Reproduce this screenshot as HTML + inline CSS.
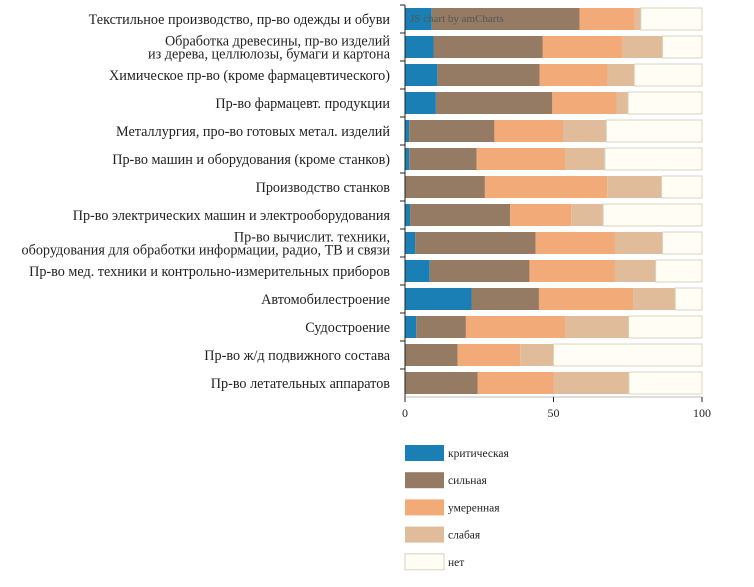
<!DOCTYPE html>
<html><head><meta charset="utf-8"><style>
body{margin:0;background:#fff;width:754px;height:582px;overflow:hidden;font-family:"Liberation Serif",serif}
</style></head><body>
<svg id="chart" width="754" height="582" xmlns="http://www.w3.org/2000/svg"></svg>
<script>
const categories=["Текстильное производство, пр-во одежды и обуви","Обработка древесины, пр-во изделий|из дерева, целлюлозы, бумаги и картона","Химическое пр-во (кроме фармацевтического)","Пр-во фармацевт. продукции","Металлургия, про-во готовых метал. изделий","Пр-во машин и оборудования (кроме станков)","Производство станков","Пр-во электрических машин и электрооборудования","Пр-во вычислит. техники,|оборудования для обработки информации, радио, ТВ и связи","Пр-во мед. техники и контрольно-измерительных приборов","Автомобилестроение","Судостроение","Пр-во ж/д подвижного состава","Пр-во летательных аппаратов"];
const critical=[9,9.6,10.9,10.4,1.4,1.4,0,1.7,3.4,8.3,22.4,3.8,0,0];
const strong=[49.8,36.8,34.4,39.2,28.7,22.7,26.9,33.7,40.6,33.6,22.7,16.7,17.7,24.5];
const moderate=[18.6,26.9,22.9,21.6,23.1,30,41.2,20.6,26.7,28.8,31.8,33.5,21.1,25.5];
const weak=[2,13.4,9,3.9,14.6,13.2,18.3,10.7,16,13.7,14.1,21.3,11.2,25.4];
const none=[20.6,13.3,22.8,24.9,32.2,32.7,13.6,33.3,13.3,15.6,9,24.7,50,24.6];
const seriesNames=["критическая","сильная","умеренная","слабая","нет"];
const seriesColors=["#1a7fb5","#957b63","#f2ab78","#e0bc9a","#fffdf4"];
const xTicks=[0,50,100];
const svg=document.getElementById('chart');const NS="http://www.w3.org/2000/svg";
function mk(t,a,p){const e=document.createElementNS(NS,t);for(const k in a)e.setAttribute(k,a[k]);(p||svg).appendChild(e);return e;}
const x0=405,x1=702,topY=5,rowH=28;
const xs=v=>x0+(x1-x0)*v/100;
const yc=i=>topY+rowH*i+rowH/2;
const series=[critical,strong,moderate,weak,none];
const keys=["critical","strong","moderate","weak","none"];
categories.forEach((c,i)=>{
 let acc=0;
 series.forEach((s,k)=>{const v=s[i];if(v<=0)return;
  const r=mk('rect',{x:xs(acc),y:yc(i)-11,width:xs(acc+v)-xs(acc),height:22,fill:seriesColors[k],stroke:k==4?'#d8d4c0':'none','stroke-width':1});
  
  
  acc+=v;});
 const lines=c.split('|');
 lines.forEach((l,j)=>{const t=mk('text',{x:390,y:yc(i)+5+(j-(lines.length-1)/2)*13,'text-anchor':'end','font-size':'14.2','fill':'#222'});t.textContent=l;
  
  });
 const tk=mk('line',{x1:400,x2:405,y1:topY+rowH*i,y2:topY+rowH*i,stroke:'#222'});
 
 
});
const ya=mk('line',{x1:405,x2:405,y1:topY,y2:topY+rowH*14,stroke:'#222'});


const xa=mk('line',{x1:405,x2:702,y1:topY+rowH*14,y2:topY+rowH*14,stroke:'#bbb'});


xTicks.forEach(v=>{const t=mk('text',{x:xs(v),y:417,'text-anchor':'middle','font-size':'12','fill':'#222'});t.textContent=v;
 
 
 const l=mk('line',{x1:xs(v),x2:xs(v),y1:topY+rowH*14,y2:topY+rowH*14+5,stroke:'#222'});
 
 });
const wm=mk('text',{x:410,y:22,'font-size':'11','fill':'#555'});wm.textContent="JS chart by amCharts";


seriesNames.forEach((n,k)=>{const y=445+k*27.2;
 const r=mk('rect',{x:405,y:y,width:39,height:16,fill:seriesColors[k],stroke:k==4?'#d8d4c0':'none'});
 
 
 const t=mk('text',{x:448,y:y+12,'font-size':'11.5','fill':'#222'});t.textContent=n;
 
 });
</script>
</body></html>
